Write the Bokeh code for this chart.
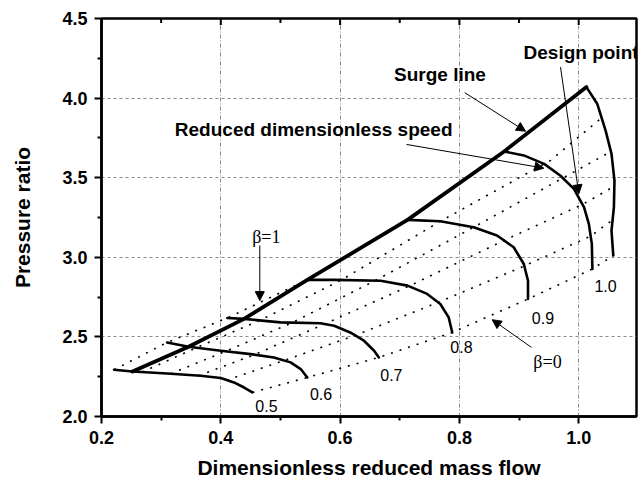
import math
from bokeh.plotting import figure
from bokeh.models import Range1d, FixedTicker, Label, Arrow, NormalHead
from bokeh.core.properties import value
from bokeh.embed import file_html
from bokeh.resources import INLINE

# ---------------- data ----------------
x_ticks = [0.2, 0.4, 0.6, 0.8, 1.0]
x_tick_labels = ["0.2", "0.4", "0.6", "0.8", "1.0"]
x_minor = [0.3, 0.5, 0.7, 0.9]
y_ticks = [2.0, 2.5, 3.0, 3.5, 4.0, 4.5]
y_tick_labels = ["2.0", "2.5", "3.0", "3.5", "4.0", "4.5"]
y_minor = [2.25, 2.75, 3.25, 3.75, 4.25]

surge_x = [0.252, 0.346, 0.439, 0.545, 0.713, 0.875, 1.013]
surge_y = [2.283, 2.438, 2.613, 2.858, 3.235, 3.665, 4.069]

n05_x = [0.221, 0.252, 0.310, 0.366, 0.400, 0.422, 0.439, 0.453]
n05_y = [2.294, 2.283, 2.270, 2.256, 2.242, 2.214, 2.182, 2.151]
n06_x = [0.310, 0.346, 0.400, 0.450, 0.489, 0.517, 0.534, 0.545]
n06_y = [2.465, 2.438, 2.413, 2.392, 2.371, 2.340, 2.298, 2.245]
n07_x = [0.411, 0.439, 0.500, 0.567, 0.590, 0.617, 0.640, 0.657, 0.665]
n07_y = [2.619, 2.613, 2.591, 2.586, 2.570, 2.528, 2.476, 2.413, 2.371]
n08_x = [0.545, 0.590, 0.668, 0.713, 0.746, 0.768, 0.782, 0.788]
n08_y = [2.858, 2.858, 2.853, 2.822, 2.770, 2.707, 2.623, 2.528]
n09_x = [0.713, 0.768, 0.824, 0.863, 0.891, 0.908, 0.915, 0.915]
n09_y = [3.235, 3.226, 3.189, 3.137, 3.063, 2.958, 2.853, 2.738]
n095_x = [0.875, 0.908, 0.942, 0.969, 0.992, 1.009, 1.017, 1.022, 1.023]
n095_y = [3.665, 3.640, 3.587, 3.514, 3.430, 3.314, 3.210, 3.084, 2.927]
n10_x = [1.013, 1.031, 1.045, 1.055, 1.060, 1.059, 1.055, 1.058]
n10_y = [4.069, 3.965, 3.797, 3.650, 3.482, 3.314, 3.168, 3.011]

speed_labels = ["0.5", "0.6", "0.7", "0.8", "0.9", "1.0"]
beta_labels = ["\u03b2=1", "\u03b2=0"]

b10_x = [0.221, 0.310, 0.411, 0.545, 0.713, 0.875, 1.013]
b10_y = [2.294, 2.465, 2.619, 2.858, 3.235, 3.665, 4.069]
b08_x = [0.268, 0.359, 0.465, 0.602, 0.768, 0.953, 1.038]
b08_y = [2.279, 2.432, 2.603, 2.857, 3.226, 3.609, 3.875]
b06_x = [0.316, 0.408, 0.520, 0.659, 0.824, 0.974, 1.054]
b06_y = [2.269, 2.409, 2.590, 2.854, 3.189, 3.499, 3.664]
b04_x = [0.363, 0.457, 0.574, 0.715, 0.875, 1.006, 1.060]
b04_y = [2.257, 2.389, 2.581, 2.818, 3.106, 3.331, 3.447]
b02_x = [0.410, 0.506, 0.625, 0.765, 0.909, 1.020, 1.057]
b02_y = [2.228, 2.352, 2.509, 2.718, 2.946, 3.133, 3.235]
b00_x = [0.453, 0.545, 0.665, 0.788, 0.915, 1.023, 1.058]
b00_y = [2.151, 2.245, 2.371, 2.528, 2.738, 2.927, 3.011]

# ---------------- figure ----------------
Y_TOP = 4.5
p = figure(width=640, height=484, x_range=Range1d(0.2, 1.0969), y_range=Range1d(2.0, Y_TOP),
           output_backend="svg", toolbar_location=None,
           min_border_left=101, min_border_right=4, min_border_top=18, min_border_bottom=68)
p.background_fill_color = "white"
p.border_fill_color = "white"
p.outline_line_color = "black"
p.outline_line_width = 2.5

SANS = "Liberation Sans"

def style_axis(ax, ticks, minor, labels):
    ax.ticker = FixedTicker(ticks=ticks, minor_ticks=minor)
    ax.major_label_overrides = {t: l for t, l in zip(ticks, labels)}
    ax.axis_line_width = 2.5
    ax.axis_line_color = "black"
    ax.major_tick_line_width = 2
    ax.minor_tick_line_width = 2
    ax.major_tick_in, ax.major_tick_out = 0, 7
    ax.minor_tick_in, ax.minor_tick_out = 0, 4
    ax.major_label_text_font = SANS
    ax.major_label_text_font_style = "bold"
    ax.major_label_text_font_size = "18px"
    ax.major_label_text_color = "black"
    ax.axis_label_text_font = SANS
    ax.axis_label_text_font_style = "bold"
    ax.axis_label_text_font_size = "21px"
    ax.axis_label_text_color = "black"

style_axis(p.xaxis[0], x_ticks, x_minor, x_tick_labels)
p.xaxis[0].major_label_standoff = 7
p.xaxis[0].axis_label = "Dimensionless reduced mass flow"
p.xaxis[0].axis_label_standoff = 9
style_axis(p.yaxis[0], y_ticks, y_minor, y_tick_labels)
p.yaxis[0].major_label_standoff = 7
p.yaxis[0].axis_label = "Pressure ratio"
p.yaxis[0].axis_label_standoff = 25

# inward ticks along the top edge (clipped to the frame, so only the inner half shows)
p.scatter(x_ticks, [Y_TOP] * len(x_ticks), marker="dash", angle=math.pi / 2, size=13,
          line_color="black", line_width=2)
p.scatter(x_minor, [Y_TOP] * len(x_minor), marker="dash", angle=math.pi / 2, size=9,
          line_color="black", line_width=2)

p.xgrid.ticker = FixedTicker(ticks=x_ticks)
p.ygrid.ticker = FixedTicker(ticks=y_ticks)
p.xgrid.grid_line_color = "#8a8a8a"
p.xgrid.grid_line_dash = "4 2 1 2"
p.xgrid.grid_line_width = 1
p.ygrid.grid_line_color = "#8a8a8a"
p.ygrid.grid_line_dash = "3 3"
p.ygrid.grid_line_width = 1

# beta lines (dotted)
for bx, by in [(b10_x, b10_y), (b08_x, b08_y), (b06_x, b06_y), (b04_x, b04_y),
               (b02_x, b02_y), (b00_x, b00_y)]:
    p.line(bx, by, line_color="black", line_width=1.6, line_dash="2 7")

# speed lines
for sx, sy in [(n05_x, n05_y), (n06_x, n06_y), (n07_x, n07_y), (n08_x, n08_y),
               (n09_x, n09_y), (n095_x, n095_y), (n10_x, n10_y)]:
    p.line(sx, sy, line_color="black", line_width=2.6, line_join="round", line_cap="round")

# surge line
p.line(surge_x, surge_y, line_color="black", line_width=3.8, line_join="round", line_cap="round")

# speed labels
p.text(x=[0.4766, 0.568, 0.686, 0.8035, 0.940, 1.045],
       y=[2.063, 2.141, 2.262, 2.434, 2.616, 2.822],
       text=speed_labels, text_font=value(SANS), text_font_size="16px",
       text_align="center", text_baseline="middle", text_color="black")

# beta labels
p.text(x=[0.4526, 0.924], y=[3.130, 2.340], text=beta_labels,
       text_font=value("Liberation Serif"), text_font_size="18px",
       text_align="left", text_baseline="middle", text_color="black")

def blabel(x, y, txt, align="left"):
    p.add_layout(Label(x=x, y=y, text=txt, text_font=SANS, text_font_style="bold",
                       text_font_size="19px", text_align=align, text_baseline="middle",
                       text_color="black"))

blabel(0.7675, 4.149, "Surge line", "center")
blabel(0.9075, 4.287, "Design point")
blabel(0.3229, 3.803, "Reduced dimensionless speed")

def arrow(x0, y0, x1, y1):
    p.add_layout(Arrow(end=NormalHead(size=9, fill_color="black", line_color="black", line_width=1),
                       x_start=x0, y_start=y0, x_end=x1, y_end=y1,
                       line_color="black", line_width=1))

arrow(0.809, 4.034, 0.9108, 3.792)
arrow(0.9695, 4.195, 1.0002, 3.399)
arrow(0.7113, 3.709, 0.9415, 3.560)
arrow(0.4654, 3.074, 0.4654, 2.728)
arrow(0.9209, 2.434, 0.855, 2.608)

open("out.html", "w").write(file_html(p, INLINE))
